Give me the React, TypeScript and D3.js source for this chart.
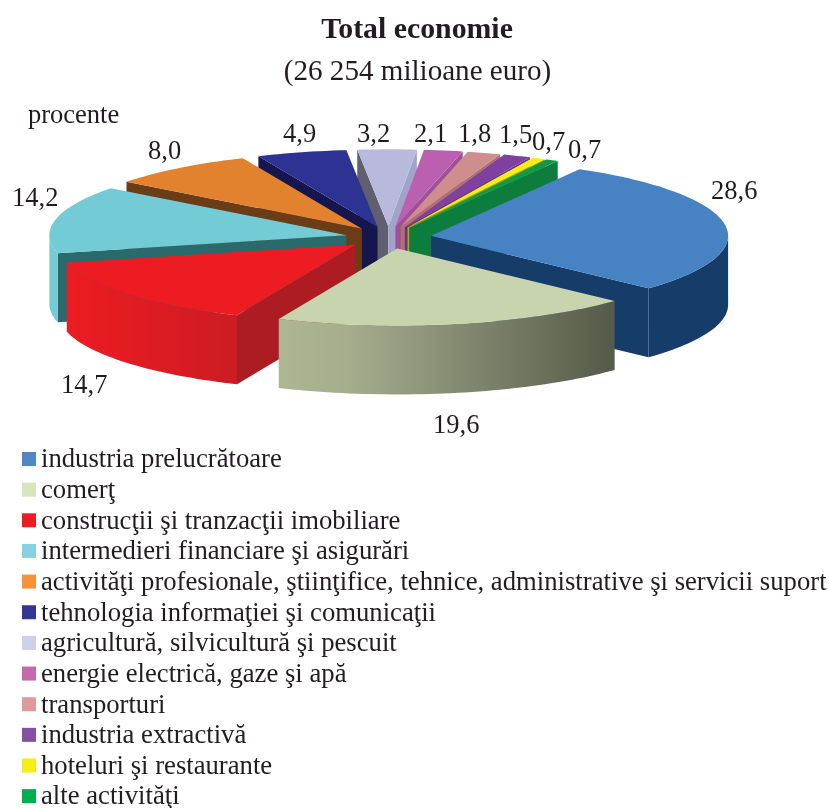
import React from "react";
import * as d3 from "d3";

const categories = [
  "industria prelucrătoare",
  "comerţ",
  "construcţii şi tranzacţii imobiliare",
  "intermedieri financiare şi asigurări",
  "activităţi profesionale, ştiinţifice, tehnice, administrative şi servicii suport",
  "tehnologia informaţiei şi comunicaţii",
  "agricultură, silvicultură şi pescuit",
  "energie electrică, gaze şi apă",
  "transporturi",
  "industria extractivă",
  "hoteluri şi restaurante",
  "alte activităţi",
];
const values = [28.6, 19.6, 14.7, 14.2, 8.0, 4.9, 3.2, 2.1, 1.8, 1.5, 0.7, 0.7];
const valueLabels = ["28,6", "19,6", "14,7", "14,2", "8,0", "4,9", "3,2", "2,1", "1,8", "1,5", "0,7", "0,7"];
const labelX = [711, 433, 61, 12, 148, 283, 357, 414, 458, 499, 532, 568];
const labelY = [199, 433, 393, 206, 159, 142, 142, 142, 142, 143, 150, 158];

const topColors = ["#4682c3", "#c8d4ae", "#ed1c24", "#72cbd5", "#e3822f", "#2e3192", "#b9b9dd", "#bb5fb0", "#cf8d8d", "#7f3f9f", "#f6ec17", "#0f9a4a"];
const legendColors = ["#4f86c6", "#d8e4bc", "#ed1c24", "#87d2e0", "#f79239", "#353594", "#cfcfe9", "#c36aac", "#df9a9a", "#8351a0", "#f6ec17", "#00ad50"];
const wallLeft = ["#163d6b", "#adb592", "#ec1c24", "#72cbd5", "#6b3d16", "#12124f", "#5f5f70", "#a04f98", "#b07070", "#6a3585", "#b5a800", "#0a7d3c"];
const wallMid = ["#163d6b", "#a7ae8e", "#e61c24", "#72cbd5", "#6b3d16", "#12124f", "#5f5f70", "#a04f98", "#b07070", "#6a3585", "#b5a800", "#0a7d3c"];
const wallRight = ["#163d6b", "#545a48", "#cc1c24", "#72cbd5", "#6b3d16", "#12124f", "#5f5f70", "#a04f98", "#b07070", "#6a3585", "#b5a800", "#0a7d3c"];
const startEdgeColors = ["#163d6b", "#545a48", "#ac1c22", "#2a6a6c", "#6b3d16", "#12124f", "#5f5f70", "#a04f98", "#b07070", "#6a3585", "#b5a800", "#0a7d3c"];
const endEdgeColors = ["#163d6b", "#545a48", "#ac1c22", "#2a6a6c", "#6b3d16", "#12124f", "#a0a4c8", "#a04f98", "#b07070", "#6a3585", "#b5a800", "#0a7d3c"];

const cx = 388.5, cy = 237.5, rx = 297, ry = 77, depth = 69, explode = 0.145;
const ink = "#231f20";
const serif = "'Liberation Serif', serif";

type Pt = [number, number];
const pieGen = d3.pie<number>().sort(null).startAngle((30 * Math.PI) / 180).endAngle((390 * Math.PI) / 180);
const arcs = pieGen(values);

const slices = arcs.map((a, i) => {
  const t0 = a.startAngle - Math.PI / 2;
  const t1 = a.endAngle - Math.PI / 2;
  const mid = (t0 + t1) / 2;
  const ax = cx + explode * rx * Math.cos(mid);
  const ay = cy + explode * ry * Math.sin(mid);
  const at = (t: number): Pt => [ax + rx * Math.cos(t), ay + ry * Math.sin(t)];
  const n = Math.max(4, Math.ceil((t1 - t0) * 40));
  const ts = d3.range(n + 1).map((k) => t0 + ((t1 - t0) * k) / n);
  return { i, t0, t1, mid, apex: [ax, ay] as Pt, at, ts };
});

const order = [...slices].sort((p, q) => Math.sin(p.mid) - Math.sin(q.mid));
const line = d3.line();
const down = (p: Pt): Pt => [p[0], p[1] + depth];

function outerWall(s: (typeof slices)[number]) {
  const vis = s.ts.filter((t) => Math.sin(t) >= -0.001);
  if (vis.length < 2) return null;
  const topPts = vis.map(s.at);
  return line([...topPts, ...topPts.slice().reverse().map(down)]) + "Z";
}
function edgeWall(apex: Pt, end: Pt) {
  return line([apex, end, down(end), down(apex)]) + "Z";
}
function edgeFacing(s: (typeof slices)[number], which: "start" | "end") {
  const t = which === "start" ? s.t0 : s.t1;
  return which === "start" ? Math.cos(t) < 0 : Math.cos(t) > 0;
}

export default function App() {
  return (
    <svg width={829} height={808} style={{ position: "absolute", left: 0, top: 0, display: "block", background: "#fff" }} fontFamily={serif}>
      <defs>
        {slices.map((s) => (
          <linearGradient key={s.i} id={`wall${s.i}`} gradientUnits="objectBoundingBox" x1="0" x2="1" y1="0" y2="0">
            <stop offset="0" stopColor={wallLeft[s.i]} />
            <stop offset="0.2" stopColor={wallMid[s.i]} />
            <stop offset="1" stopColor={wallRight[s.i]} />
          </linearGradient>
        ))}
        <filter id="soft" filterUnits="userSpaceOnUse" x="0" y="0" width="829" height="808">
          <feGaussianBlur stdDeviation="0.45" />
        </filter>
      </defs>
      <g filter="url(#soft)">
        <text x={417} y={38} textAnchor="middle" fontWeight="bold" fontSize={29.8} fill={ink}>Total economie</text>
        <text x={417.5} y={79.5} textAnchor="middle" fontSize={29.1} fill={ink}>(26 254 milioane euro)</text>
        <text x={28} y={123} fontSize={26.5} fill={ink}>procente</text>
        {order.map((s) => {
          const wall = outerWall(s);
          return (
            <g key={s.i}>
              {edgeFacing(s, "start") && <path d={edgeWall(s.apex, s.at(s.t0))} fill={startEdgeColors[s.i]} />}
              {edgeFacing(s, "end") && <path d={edgeWall(s.apex, s.at(s.t1))} fill={endEdgeColors[s.i]} />}
              {wall && <path d={wall} fill={`url(#wall${s.i})`} />}
              <path d={line([s.apex, ...s.ts.map(s.at)]) + "Z"} fill={topColors[s.i]} />
            </g>
          );
        })}
        {valueLabels.map((l, i) => (
          <text key={i} x={labelX[i]} y={labelY[i]} fontSize={26.5} fill={ink}>{l}</text>
        ))}
        {categories.map((c, i) => {
          const y = 467.3 + i * 30.65;
          return (
            <g key={i}>
              <rect x={22} y={y - 15.3} width={14} height={14} fill={legendColors[i]} />
              <text x={41} y={y} fontSize={26.7} fill={ink}>{c}</text>
            </g>
          );
        })}
      </g>
    </svg>
  );
}
